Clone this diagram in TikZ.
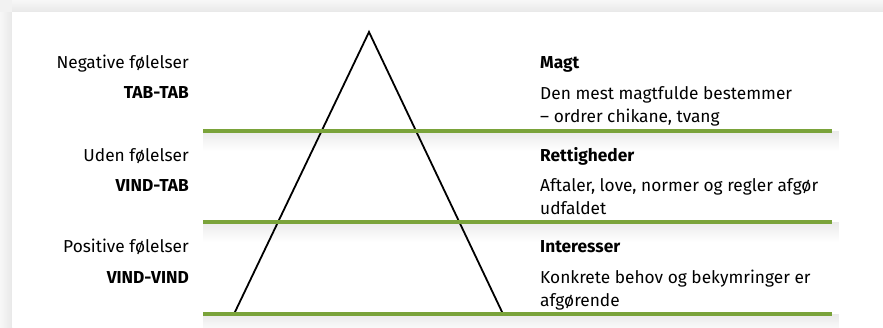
\documentclass[tikz,border=0pt]{standalone}
\usepackage{fontspec}
\setmainfont{Fira Sans}
\usetikzlibrary{fadings}
\definecolor{barGreen}{RGB}{122,163,58}
\tikzfading[name=dropfade, top color=transparent!20, bottom color=transparent!100]

\begin{document}
\begin{tikzpicture}[x=1pt, y=-1pt,
  txt/.style={font=\fontsize{17.3}{23}\selectfont, inner sep=0pt},
  lefttxt/.style={txt, anchor=base east},
  headtxt/.style={txt, anchor=base west, font=\fontsize{17.3}{23}\selectfont\bfseries},
  righttxt/.style={txt, anchor=base west, align=left},
  bar/.style={barGreen, line width=4pt}]
\useasboundingbox (0,0) rectangle (883,327);
\fill[black!5] (0,0) rectangle (883,327);
\shade[left color=black!3, right color=black!9] (0,12) rectangle (12,327);
\shade[top color=black!3, bottom color=black!9] (12,0) rectangle (883,12);
\fill[white] (12,12) rectangle (883,327);
% soft shadow under each bar
\foreach \y in {131,222,314}
  \fill[black, opacity=.10, path fading=dropfade] (203,\y) rectangle (840,\y+20);

\coordinate (apex) at (369,32);
\coordinate (baseL) at (234,314);
\coordinate (baseR) at (503,314);
\draw[line width=1.8pt, line join=miter] (baseL) -- (apex) -- (baseR);

\foreach \n/\y in {1/131, 2/222, 3/314} {
  \coordinate (bar\n a) at (203,\y);
  \coordinate (bar\n b) at (832,\y);
  \draw[bar] (bar\n a) -- (bar\n b);
}

\node[lefttxt] (neg) at (189,68) {Negative følelser};
\node[lefttxt] (tabtab) at (189,98) {\textbf{TAB-TAB}};
\node[lefttxt] (uden) at (189,161) {Uden følelser};
\node[lefttxt] (vindtab) at (189,191) {\textbf{VIND-TAB}};
\node[lefttxt] (pos) at (189,252) {Positive følelser};
\node[lefttxt] (vindvind) at (189,283) {\textbf{VIND-VIND}};

% two-line texts sit on the baseline of their last line
\node[headtxt] (magt) at (540,68) {Magt};
\node[righttxt] (magttxt) at (540,122) {Den mest magtfulde bestemmer\\– ordrer chikane, tvang};
\node[headtxt] (ret) at (540,161) {Rettigheder};
\node[righttxt] (rettxt) at (540,214) {Aftaler, love, normer og regler afgør\\udfaldet};
\node[headtxt] (int) at (540,252) {Interesser};
\node[righttxt] (inttxt) at (540,306) {Konkrete behov og bekymringer er\\afgørende};
\end{tikzpicture}
\end{document}
